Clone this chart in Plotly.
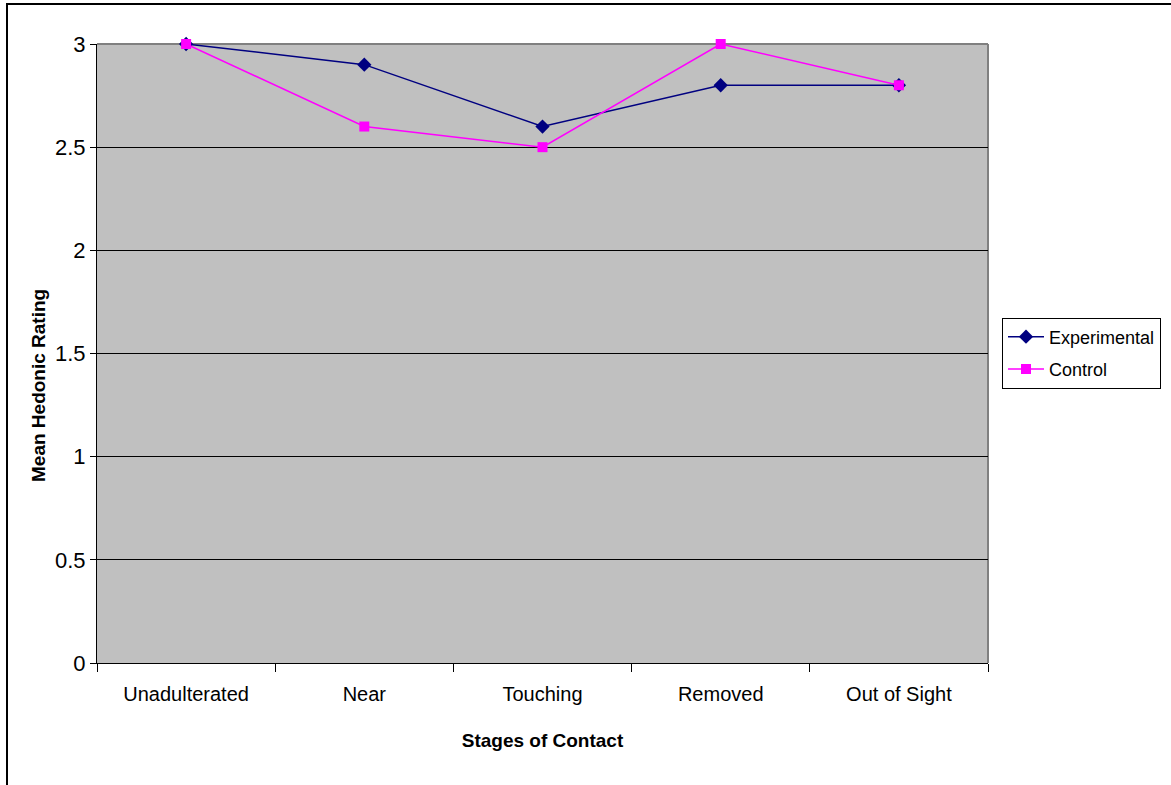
import plotly.graph_objects as go

categories = ["Unadulterated", "Near", "Touching", "Removed", "Out of Sight"]
experimental = [3.0, 2.9, 2.6, 2.8, 2.8]
control = [3.0, 2.6, 2.5, 3.0, 2.8]
y_ticks = [0, 0.5, 1, 1.5, 2, 2.5, 3]
y_tick_text = ["0", "0.5", "1", "1.5", "2", "2.5", "3"]

FONT = "Liberation Sans Narrow, Arial Narrow, Liberation Sans, Arial, sans-serif"

fig = go.Figure()
fig.add_trace(go.Scatter(
    x=categories, y=experimental, name="Experimental", mode="lines+markers",
    line=dict(color="#000080", width=1.5), legendgroup="e", cliponaxis=False,
    marker=dict(symbol="diamond", size=11, color="#000080"),
))
fig.add_trace(go.Scatter(
    x=categories, y=control, name="Control", mode="lines+markers",
    line=dict(color="#FF00FF", width=1.5), legendgroup="c", cliponaxis=False,
    marker=dict(symbol="square", size=10, color="#FF00FF"),
))

W, H = 1171, 785
L, R, T, B = 97, 183, 44, 122
pw = W - L - R
ph = H - T - B


def px_x(x):
    return (x - L) / pw


def px_y(y):
    return (H - B - y) / ph


fig.update_layout(
    width=W, height=H,
    margin=dict(l=L, r=R, t=T, b=B, autoexpand=False),
    paper_bgcolor="white",
    plot_bgcolor="#C0C0C0",
    font=dict(family=FONT, size=19, color="black"),
    showlegend=True,
    legend=dict(
        x=px_x(1002), y=px_y(353), xanchor="left", yanchor="middle",
        bgcolor="white", bordercolor="black", borderwidth=1,
        font=dict(family=FONT, size=18),
        itemwidth=36, tracegroupgap=6,
    ),
    xaxis=dict(
        type="category", range=[-0.5, len(categories) - 0.5],
        showgrid=False, showline=True, linecolor="black", linewidth=1,
        ticks="outside", tickson="boundaries", ticklen=8, tickcolor="black",
        ticklabelstandoff=13,
        tickfont=dict(family=FONT, size=20), zeroline=False,
        title=dict(text="<b>Stages of Contact</b>", font=dict(family=FONT, size=19), standoff=29),
    ),
    yaxis=dict(
        range=[0, 3], tickvals=y_ticks, ticktext=y_tick_text,
        showgrid=True, gridcolor="black", gridwidth=1,
        showline=True, linecolor="black", linewidth=1,
        ticks="outside", ticklen=6, tickcolor="black",
        tickfont=dict(family=FONT, size=22), zeroline=False,
    ),
    annotations=[
        dict(text="<b>Mean Hedonic Rating</b>", textangle=-90, showarrow=False,
             xref="paper", yref="paper", x=px_x(38), y=px_y(386),
             xanchor="center", yanchor="middle", font=dict(family=FONT, size=19)),
    ],
    shapes=[
        dict(type="line", xref="paper", yref="paper", x0=0, x1=1, y0=1, y1=1,
             line=dict(color="#808080", width=2), layer="between"),
        dict(type="line", xref="paper", yref="paper", x0=1, x1=1, y0=0, y1=1,
             line=dict(color="#808080", width=2), layer="between"),
        dict(type="rect", xref="paper", yref="paper",
             x0=px_x(7), x1=px_x(1175),
             y0=px_y(790), y1=px_y(4),
             line=dict(color="black", width=2), fillcolor="rgba(0,0,0,0)", layer="above"),
    ],
)

fig.write_html("out.html", config={"displayModeBar": False},
               post_script="document.body.style.margin='0';")
